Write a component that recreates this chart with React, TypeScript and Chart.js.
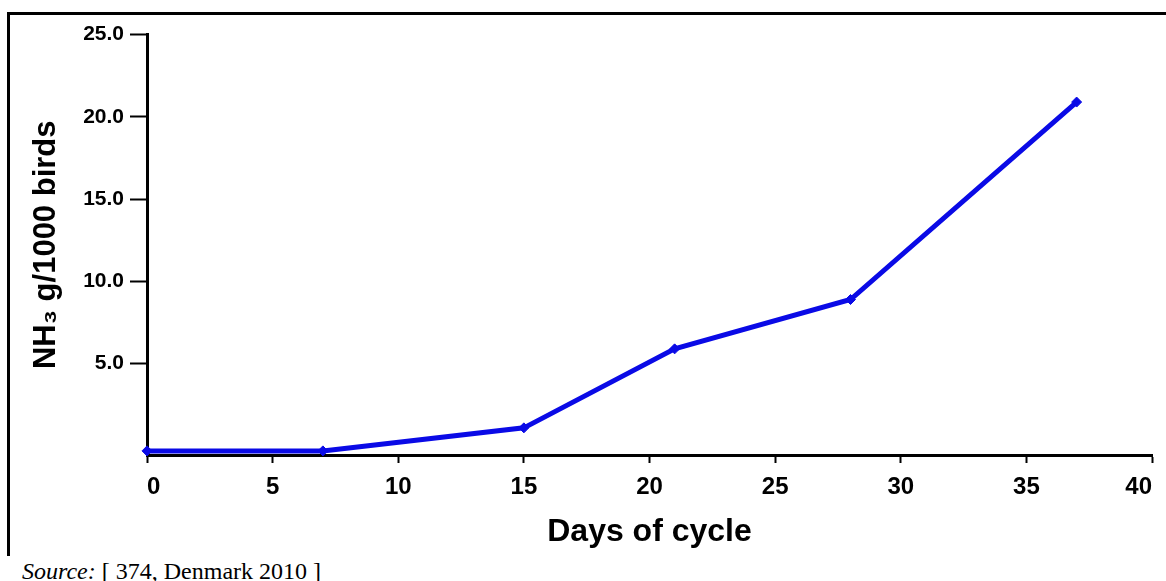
import React, { useEffect, useRef } from "react";
import { Chart, registerables } from "chart.js";

Chart.register(...registerables);

const days = [0, 7, 15, 21, 28, 37];
const nh3Values = [-0.3, -0.3, 1.1, 5.9, 8.9, 20.9];
const yTickValues = [5, 10, 15, 20, 25];
const xTitle = "Days of cycle";
const yTitle = "NH\u2083 g/1000 birds";
const sourceLabel = "Source:";
const sourceText = " [ 374, Denmark 2010 ]";

export default function App() {
  const canvasRef = useRef<HTMLCanvasElement | null>(null);

  useEffect(() => {
    const canvas = canvasRef.current;
    if (!canvas) return;
    const chart = new Chart(canvas, {
      type: "line",
      data: {
        datasets: [
          {
            data: days.map((d, i) => ({ x: d, y: nh3Values[i] })),
            borderColor: "#0a0ae6",
            backgroundColor: "#0a0ae6",
            borderWidth: 5,
            pointStyle: "rectRot",
            pointRadius: 5,
            pointBorderWidth: 1,
            tension: 0,
            clip: false,
          },
        ],
      },
      options: {
        animation: false,
        responsive: false,
        maintainAspectRatio: false,
        layout: { padding: { top: 16, right: 14, left: 0, bottom: 0 } },
        plugins: { legend: { display: false }, tooltip: { enabled: false } },
        scales: {
          x: {
            type: "linear",
            min: 0,
            max: 40,
            ticks: {
              stepSize: 5,
              align: "inner",
              color: "#000",
              padding: 10,
              maxRotation: 0,
              font: { family: "Liberation Sans", size: 24, weight: "bold" },
            },
            grid: {
              drawOnChartArea: false,
              drawTicks: true,
              tickLength: 8,
              tickWidth: 2,
              tickColor: "#000",
            },
            border: { color: "#000", width: 3 },
            title: {
              display: true,
              text: xTitle,
              color: "#000",
              padding: { top: 0, bottom: 5 },
              font: { family: "Liberation Sans", size: 32, weight: "bold" },
            },
            afterFit: (scale: any) => {
              scale.height = 101;
            },
          },
          y: {
            type: "linear",
            min: -0.55,
            max: 25,
            afterBuildTicks: (scale: any) => {
              scale.ticks = yTickValues.map((v) => ({ value: v }));
            },
            ticks: {
              color: "#000",
              padding: 6,
              callback: (v: any) => Number(v).toFixed(1),
              font: { family: "Liberation Sans", size: 21, weight: "bold" },
            },
            grid: {
              drawOnChartArea: false,
              drawTicks: true,
              tickLength: 17,
              tickWidth: 2,
              tickColor: "#000",
            },
            border: { color: "#000", width: 3 },
            title: {
              display: true,
              text: yTitle,
              color: "#000",
              padding: { top: 16, bottom: 0 },
              font: { family: "Liberation Sans", size: 31, weight: "bold" },
            },
            afterFit: (scale: any) => {
              scale.width = 135;
            },
          },
        },
      },
    });
    return () => chart.destroy();
  }, []);

  return (
    <div
      style={{
        position: "fixed",
        left: 0,
        top: 0,
        width: 1166,
        height: 581,
        overflow: "hidden",
        background: "#fff",
      }}
    >
      <div
        style={{
          position: "absolute",
          left: 7,
          top: 12,
          width: 1170,
          height: 544,
          borderTop: "3px solid #000",
          borderLeft: "3px solid #000",
          boxSizing: "border-box",
        }}
      />
      <canvas
        ref={canvasRef}
        width={1154}
        height={540}
        style={{ position: "absolute", left: 12, top: 16, width: 1154, height: 540 }}
      />
      <div
        style={{
          position: "absolute",
          left: 22,
          top: 559,
          fontFamily: "Liberation Serif",
          fontSize: 24,
          lineHeight: "24px",
          whiteSpace: "nowrap",
          color: "#000",
        }}
      >
        <i>{sourceLabel}</i>
        {sourceText}
      </div>
    </div>
  );
}
